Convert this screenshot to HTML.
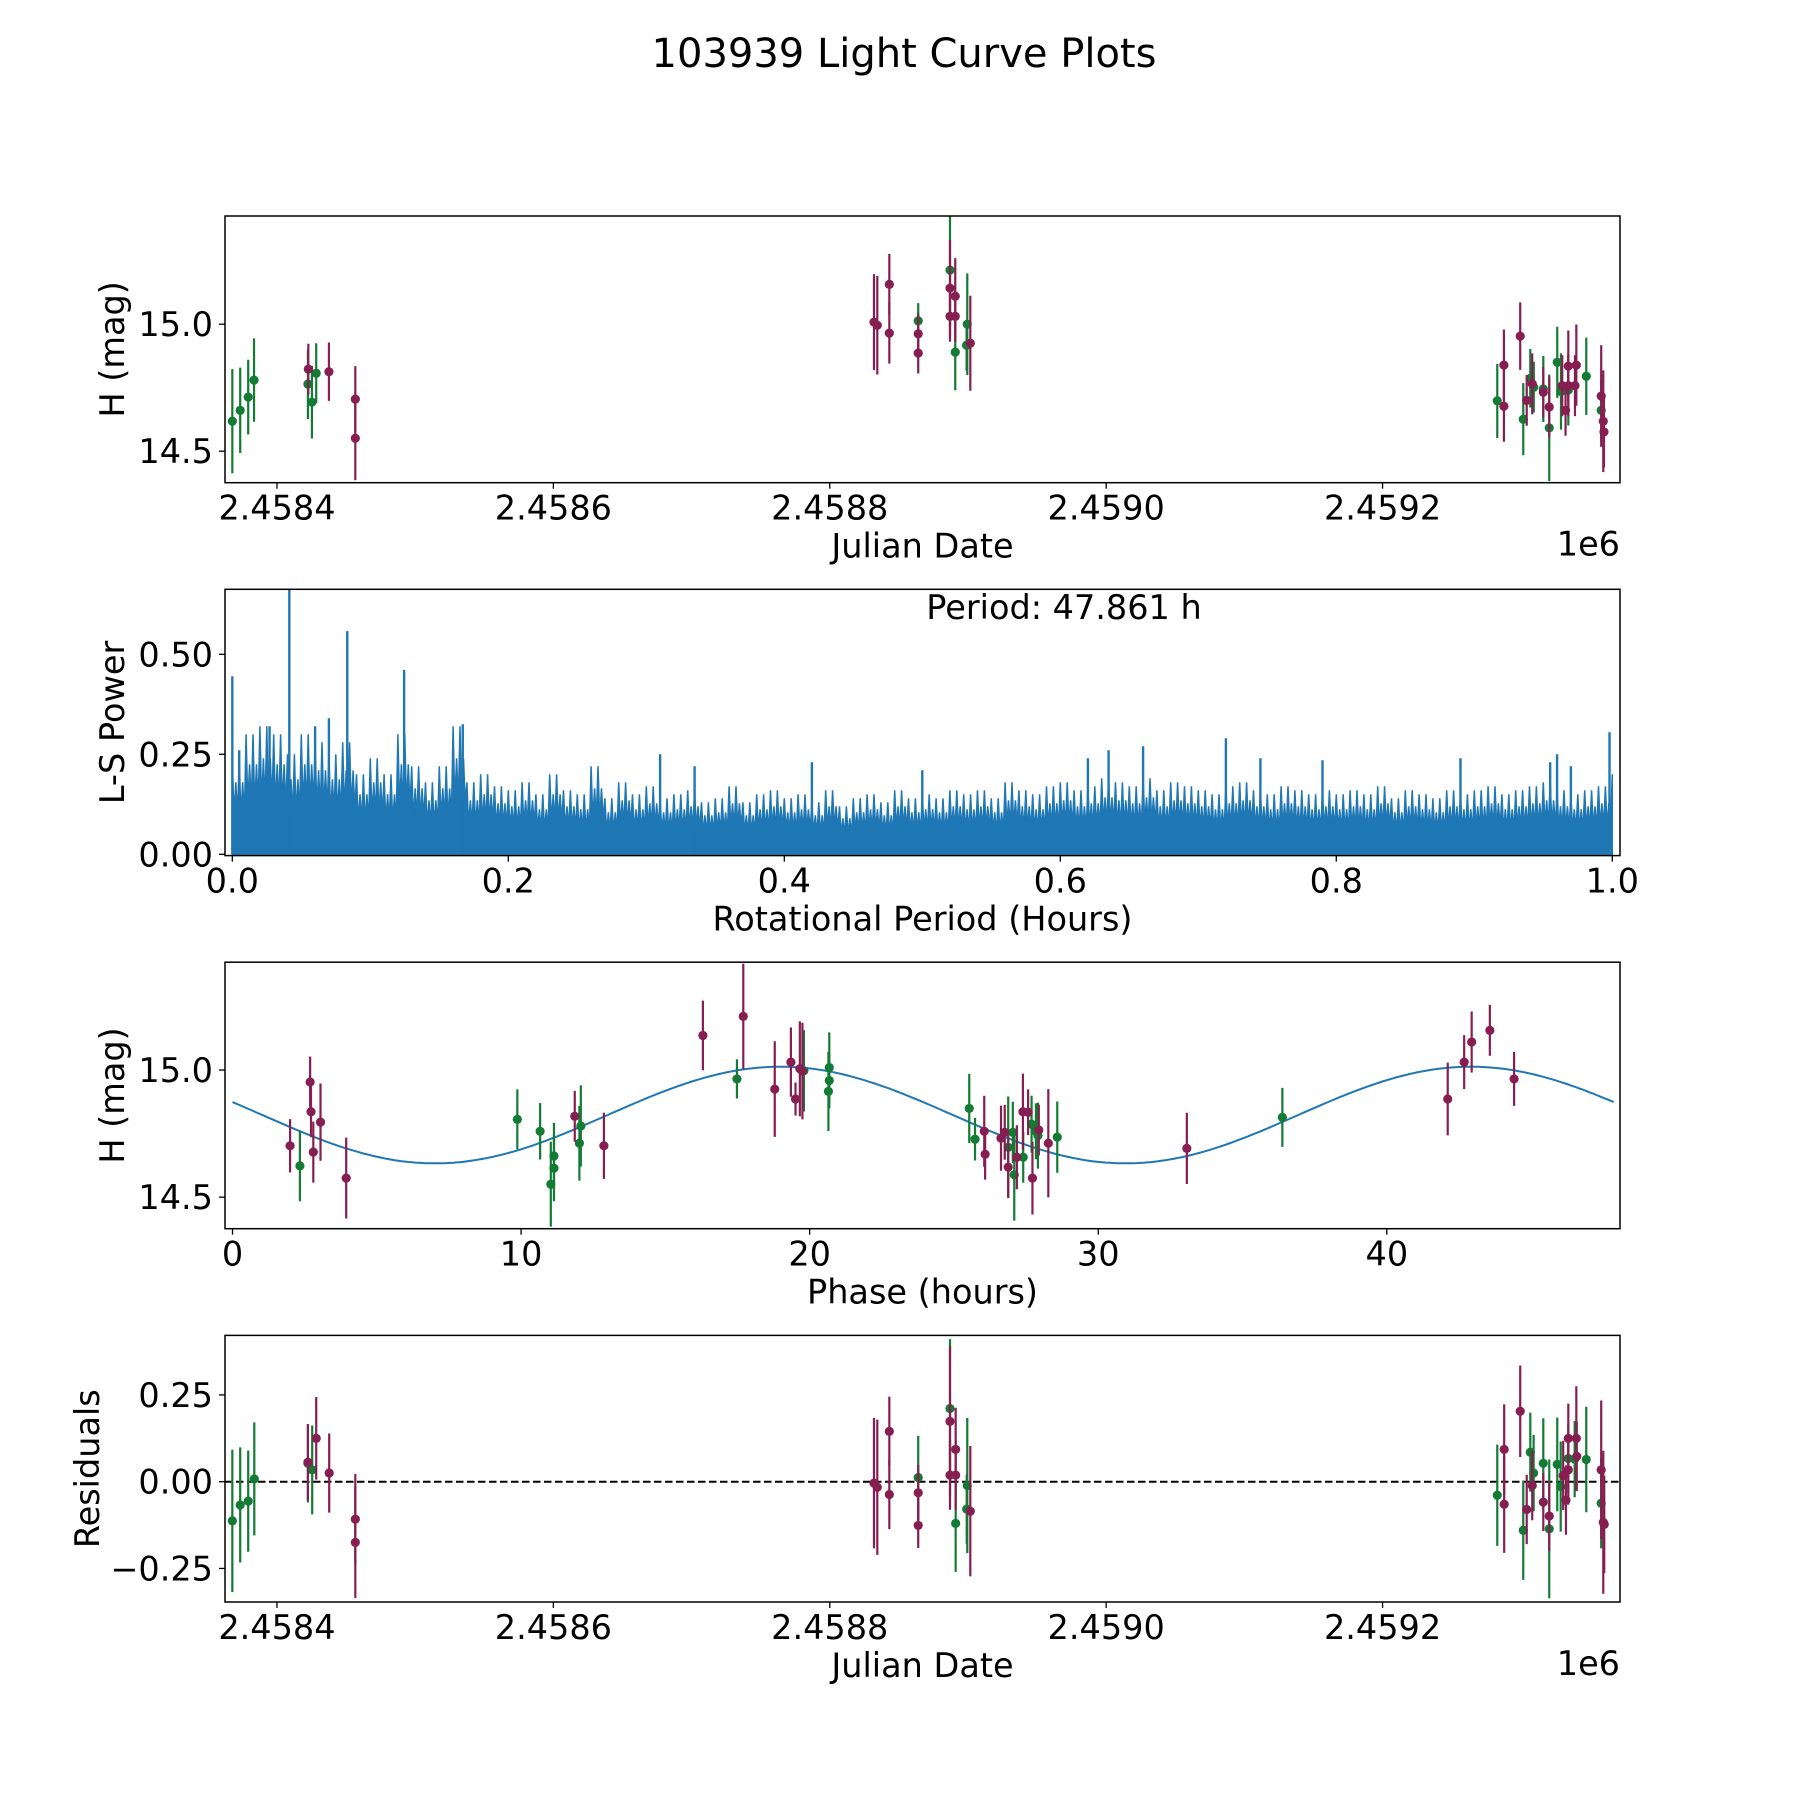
<!DOCTYPE html>
<html><head><meta charset="utf-8">
<style>
html,body{margin:0;padding:0;background:#fff;}
svg{display:block;font-family:"DejaVu Sans","Liberation Sans",sans-serif;}
</style></head>
<body>
<svg id="fig" width="1800" height="1800" viewBox="0 0 1800 1800" xmlns="http://www.w3.org/2000/svg">
<rect width="1800" height="1800" fill="#fff"/>
<text x="904" y="67" font-size="40" text-anchor="middle" fill="#000">103939 Light Curve Plots</text>
<g id="p1"></g>
<g id="p2"></g>
<g id="p3"></g>
<g id="p4"></g>
</svg>
<script>
// ---------- data ----------
const jd1 = [2458367.7,2458373.4,2458379.2,2458383.4,2458422.7,2458422.4,2458425.3,2458428.4,2458437.6,2458456.7,2458456.7,
 2458832.0,2458834.4,2458843.1,2458843.1,2458864.0,2458864.0,2458864.0,2458887.0,2458887.0,2458887.0,2458890.8,2458890.8,2458890.8,2458899.5,2458899.0,2458901.7,
 2459283.0,2459287.8,2459287.8,2459299.6,2459301.8,2459304.3,2459306.9,2459308.3,2459309.4,2459316.3,2459316.3,2459320.6,2459320.6,2459326.4,2459329.1,2459330.0,2459332.4,2459334.4,2459334.4,2459334.4,2459339.2,2459340.2,2459347.4,2459358.2,2459358.2,2459359.7,2459360.2,2459366.9];
const mag1 = [14.618,14.661,14.713,14.780,14.823,14.764,14.693,14.807,14.813,14.705,14.551,
 15.008,14.996,15.157,14.965,15.013,14.962,14.886,15.213,15.142,15.031,15.110,15.031,14.890,15.000,14.917,14.925,
 14.698,14.839,14.677,14.953,14.626,14.700,14.787,14.765,14.752,14.745,14.732,14.592,14.674,14.850,14.735,14.758,14.661,14.835,14.758,14.741,14.758,14.839,14.795,14.717,14.661,14.618,14.576,14.579];
const err1 = [0.205,0.168,0.147,0.164,0.10,0.137,0.143,0.118,0.115,0.13,0.165,
 0.189,0.194,0.12,0.12,0.07,0.08,0.08,0.22,0.19,0.10,0.15,0.10,0.15,0.20,0.10,0.187,
 0.146,0.14,0.14,0.133,0.142,0.10,0.115,0.12,0.10,0.13,0.10,0.21,0.12,0.14,0.15,0.12,0.10,0.14,0.12,0.14,0.12,0.16,0.152,0.2,0.12,0.2,0.14,0.16];
const band1 = "ggggpgggppp"+"ppppgppgppppgggp"+"gpppgpgpggpgpggppppgppgpgpp";

const envelope = [0.24,0.30,0.32,0.30,0.25,0.30,0.28,0.25,0.28,0.20,
 0.24,0.20,0.30,0.22,0.18,0.22,0.32,0.18,0.20,0.17,
 0.16,0.18,0.15,0.20,0.16,0.15,0.22,0.14,0.18,0.15,
 0.17,0.14,0.15,0.16,0.13,0.14,0.17,0.13,0.15,0.16,
 0.14,0.15,0.13,0.16,0.12,0.14,0.15,0.13,0.16,0.14,
 0.15,0.14,0.16,0.15,0.16,0.14,0.18,0.16,0.15,0.17,
 0.18,0.16,0.17,0.19,0.18,0.17,0.19,0.16,0.18,0.17,
 0.16,0.15,0.17,0.18,0.16,0.15,0.17,0.16,0.15,0.16,
 0.15,0.16,0.15,0.17,0.14,0.16,0.15,0.14,0.16,0.15,
 0.16,0.17,0.15,0.16,0.17,0.18,0.16,0.15,0.16,0.17,0.20];
const spikePeriod = [0.0,0.005,0.027,0.0413,0.06,0.07,0.0833,0.1245,0.167,0.31,0.335,0.42,0.5,0.62,0.635,0.66,0.72,0.745,0.79,0.89,0.955,0.96,0.97,0.998];
const spikePower = [0.445,0.26,0.32,0.67,0.32,0.34,0.558,0.461,0.325,0.25,0.22,0.23,0.21,0.24,0.26,0.27,0.29,0.24,0.235,0.24,0.23,0.25,0.22,0.305];

const phase3 = [1.995,2.336,2.69,2.72,2.80,3.05,3.94,9.87,10.66,11.14,11.14,11.03,11.86,12.07,12.02,12.87,16.30,17.70,17.48,18.79,19.35,19.51,19.66,19.75,19.80,20.68,20.68,20.65,
 25.53,25.73,26.05,26.08,26.63,26.76,26.88,26.88,27.04,27.09,27.18,27.40,27.39,27.57,27.69,27.72,27.84,27.91,27.94,28.27,28.58,33.07,36.38,42.11,42.68,42.94,43.57,44.41];
const mag3 = [14.702,14.623,14.953,14.836,14.677,14.795,14.575,14.806,14.759,14.662,14.614,14.551,14.818,14.780,14.712,14.702,15.136,15.211,14.965,14.925,15.031,14.886,15.005,14.996,14.997,15.010,14.959,14.916,
 14.849,14.728,14.759,14.669,14.732,14.755,14.696,14.618,14.755,14.588,14.657,14.657,14.836,14.834,14.787,14.575,14.759,14.742,14.764,14.712,14.736,14.692,14.814,14.886,15.031,15.110,15.156,14.965];
const err3 = [0.105,0.139,0.1,0.1,0.12,0.152,0.159,0.118,0.111,0.13,0.13,0.167,0.1,0.16,0.147,0.13,0.137,0.207,0.077,0.188,0.136,0.065,0.187,0.19,0.16,0.138,0.11,0.156,
 0.136,0.084,0.14,0.1,0.128,0.108,0.2,0.12,0.12,0.18,0.126,0.1,0.15,0.09,0.112,0.143,0.11,0.13,0.1,0.213,0.14,0.14,0.116,0.143,0.106,0.12,0.1,0.106];
const band3 = "pgppppp"+"gggggpggpp"+"pgpppppggggg"+"gppppgpggpgppgpggppg"+"pgpppppp";
// fitted sinusoid (mean mag, amplitude, period h, phase of maximum h)
const fitParams = [14.823, 0.19, 23.93, 18.98];

const jd4 = [2458367.7,2458373.4,2458379.2,2458383.6,2458422.4,2458422.4,2458425.5,2458428.4,2458437.8,2458456.7,2458456.7,
 2458832.0,2458834.4,2458843.1,2458843.1,2458864.0,2458864.0,2458864.0,2458887.0,2458887.0,2458887.0,2458891.1,2458891.1,2458891.1,2458899.5,2458899.1,2458901.7,
 2459283.0,2459288.0,2459288.0,2459299.6,2459301.8,2459304.3,2459306.9,2459308.3,2459309.3,2459316.3,2459316.3,2459320.6,2459320.6,2459326.4,2459328.9,2459330.7,2459332.7,2459334.4,2459334.4,2459334.4,2459339.0,2459340.2,2459340.5,2459347.4,2459358.2,2459358.2,2459359.7,2459360.4,2459366.9];
const res4 = [-0.113,-0.067,-0.056,0.008,0.056,0.053,0.034,0.125,0.025,-0.108,-0.175,
 -0.004,-0.016,0.145,-0.037,0.012,-0.032,-0.126,0.211,0.174,0.019,0.093,0.019,-0.12,-0.011,-0.079,-0.085,
 -0.039,0.093,-0.065,0.203,-0.14,-0.08,0.085,-0.011,0.025,0.053,-0.059,-0.136,-0.099,0.05,-0.014,0.018,-0.053,0.125,0.067,0.034,0.065,0.125,0.073,0.064,0.034,-0.062,-0.117,-0.123,-0.12];
const err4 = [0.205,0.166,0.146,0.163,0.11,0.113,0.128,0.119,0.114,0.13,0.16,
 0.188,0.195,0.1,0.1,0.12,0.08,0.065,0.2,0.216,0.1,0.12,0.1,0.14,0.195,0.1,0.188,
 0.146,0.13,0.14,0.132,0.143,0.1,0.114,0.1,0.11,0.13,0.083,0.2,0.1,0.135,0.13,0.1,0.1,0.1,0.1,0.1,0.11,0.15,0.1,0.152,0.2,0.13,0.206,0.14,0.16];
const band4 = "ggggpggpp"+"pp"+"ppppgppgppppgggp"+"gpppgpgpggpgpggpppgpgppgpgpp";

const jdTicks = [2458400,2458600,2458800,2459000,2459200];
const jdTickLabels = ["2.4584","2.4586","2.4588","2.4590","2.4592"];
const magTicks = [14.5,15.0];
const magTickLabels = ["14.5","15.0"];
const pTicks = [0,0.2,0.4,0.6,0.8,1.0];
const pTickLabels = ["0.0","0.2","0.4","0.6","0.8","1.0"];
const powTicks = [0,0.25,0.5];
const powTickLabels = ["0.00","0.25","0.50"];
const phTicks = [0,10,20,30,40];
const phTickLabels = ["0","10","20","30","40"];
const resTicks = [-0.25,0,0.25];
const resTickLabels = ["\u22120.25","0.00","0.25"];

// ---------- helpers ----------
const NS = "http://www.w3.org/2000/svg";
const GREEN = "#137b34", PURPLE = "#861e52", BLUE = "#1f77b4";
const FS = 33.5;
function mk(parent, tag, attrs, txt){
  const e = document.createElementNS(NS, tag);
  for (const k in attrs) e.setAttribute(k, attrs[k]);
  if (txt !== undefined) e.textContent = txt;
  parent.appendChild(e);
  return e;
}
function lin(d0,d1,r0,r1){ return v => r0 + (v-d0)/(d1-d0)*(r1-r0); }
const L = 225, R = 1620;

function axes(g, top, bot, sx, sy, xt, xtl, yt, ytl, xlabel, ylabel, ylabelX, offText){
  for (let i=0;i<xt.length;i++){
    const x = sx(xt[i]);
    const t = mk(g,"line",{x1:x,x2:x,y1:bot,y2:bot+6,stroke:"#000","stroke-width":1.3});
    
    
    const l = mk(g,"text",{x:x,y:bot+37,"font-size":FS,"text-anchor":"middle"},xtl[i]);
    
    
  }
  for (let i=0;i<yt.length;i++){
    const y = sy(yt[i]);
    const t = mk(g,"line",{x1:L-6,x2:L,y1:y,y2:y,stroke:"#000","stroke-width":1.3});
    
    
    const l = mk(g,"text",{x:L-12,y:y+12,"font-size":FS,"text-anchor":"end"},ytl[i]);
    
    
  }
  const fr = mk(g,"rect",{x:L,y:top,width:R-L,height:bot-top,fill:"none",stroke:"#000","stroke-width":1.5});
  
  
  const xl = mk(g,"text",{x:(L+R)/2,y:bot+75,"font-size":FS,"text-anchor":"middle"},xlabel);
  
  
  const cy = (top+bot)/2;
  const yl = mk(g,"text",{x:ylabelX,y:cy,"font-size":FS,"text-anchor":"middle",transform:"rotate(-90 "+ylabelX+" "+cy+")"},ylabel);
  
  
  if (offText){
    const o = mk(g,"text",{x:R,y:bot+73,"font-size":FS,"text-anchor":"end"},offText);
    
    
  }
}
function errpts(g, xs, ys, es, bands, sx, sy, top, bot, nm){
  const clip = "clip-"+nm;
  const cp = mk(g,"clipPath",{id:clip});
  mk(cp,"rect",{x:L,y:top,width:R-L,height:bot-top});
  const layer = mk(g,"g",{"clip-path":"url(#"+clip+")"});
  ["g","p"].forEach(b=>{
    for (let i=0;i<xs.length;i++){
      if (bands[i]!==b) continue;
      const c = b==="g"?GREEN:PURPLE;
      const x = sx(xs[i]);
      const eb = mk(layer,"line",{x1:x,x2:x,y1:sy(ys[i]-es[i]),y2:sy(ys[i]+es[i]),stroke:c,"stroke-width":2.2});
      
      
      const d = mk(layer,"circle",{cx:x,cy:sy(ys[i]),r:4.6,fill:c});
      
      
    }
  });
}

// ---------- panel 1 ----------
(function(){
  const g = document.getElementById("p1");
  const top=216, bot=482.7;
  const sx = lin(2458362.4,2459371.8,L,R), sy = lin(14.376,15.426,bot,top);
  errpts(g,jd1,mag1,err1,band1,sx,sy,top,bot,"p1");
  axes(g,top,bot,sx,sy,jdTicks,jdTickLabels,magTicks,magTickLabels,"Julian Date","H (mag)",124,"1e6");
})();

// ---------- panel 2 ----------
(function(){
  const g = document.getElementById("p2");
  const top=589.3, bot=855.6;
  const sx = lin(-0.0053,1.0056,L,R), sy = lin(-0.0033,0.6625,bot,top);
  const cp = mk(g,"clipPath",{id:"clip-p2"});
  mk(cp,"rect",{x:L,y:top,width:R-L,height:bot-top});
  const layer = mk(g,"g",{"clip-path":"url(#clip-p2)"});
  let d = "M"+sx(0)+","+sy(0);
  for (let i=0;i<envelope.length-1;i++){
    const p0 = i*0.01;
    for (let k=0;k<4;k++){
      const a = p0 + k*0.0025;
      d += " L"+sx(a).toFixed(1)+","+sy(envelope[i]*(k%2?0.75:1)).toFixed(1);
      d += " L"+sx(a+0.00125).toFixed(1)+","+sy(envelope[i]*0.4).toFixed(1);
    }
  }
  d += " L"+sx(1)+","+sy(envelope[envelope.length-1])+" L"+sx(1)+","+sy(0)+" Z";
  const area = mk(layer,"path",{d:d,fill:BLUE,stroke:BLUE,"stroke-width":1.5,"stroke-linejoin":"miter"});
  
  
  for (let i=0;i<spikePeriod.length;i++){
    const s = mk(layer,"line",{x1:sx(spikePeriod[i]),x2:sx(spikePeriod[i]),y1:sy(0),y2:sy(spikePower[i]),stroke:BLUE,"stroke-width":2.4});
    
    
  }
  axes(g,top,bot,sx,sy,pTicks,pTickLabels,powTicks,powTickLabels,"Rotational Period (Hours)","L-S Power",124,null);
  const ann = mk(g,"text",{x:1064,y:619,"font-size":FS,"text-anchor":"middle"},"Period: 47.861 h");
  
  
})();

// ---------- panel 3 ----------
(function(){
  const g = document.getElementById("p3");
  const top=962.2, bot=1228.7;
  const sx = lin(-0.26,48.08,L,R), sy = lin(14.376,15.424,bot,top);
  let d = "";
  const P = 47.861;
  for (let i=0;i<=400;i++){
    const t = P*i/400;
    const m = fitParams[0] + fitParams[1]*Math.cos(2*Math.PI*(t-fitParams[3])/fitParams[2]);
    d += (i?" L":"M")+sx(t).toFixed(1)+","+sy(m).toFixed(1);
  }
  const fit = mk(g,"path",{d:d,fill:"none",stroke:BLUE,"stroke-width":2});
  
  
  errpts(g,phase3,mag3,err3,band3,sx,sy,top,bot,"p3");
  axes(g,top,bot,sx,sy,phTicks,phTickLabels,magTicks,magTickLabels,"Phase (hours)","H (mag)",124,null);
})();

// ---------- panel 4 ----------
(function(){
  const g = document.getElementById("p4");
  const top=1335.4, bot=1602;
  const sx = lin(2458362.4,2459371.8,L,R), sy = lin(-0.3467,0.4216,bot,top);
  const z = mk(g,"line",{x1:L,x2:R,y1:sy(0),y2:sy(0),stroke:"#000","stroke-width":2,"stroke-dasharray":"7.5,3.5"});
  
  
  errpts(g,jd4,res4,err4,band4,sx,sy,top,bot,"p4");
  axes(g,top,bot,sx,sy,jdTicks,jdTickLabels,resTicks,resTickLabels,"Julian Date","Residuals",99,"1e6");
})();
</script>
</body></html>
